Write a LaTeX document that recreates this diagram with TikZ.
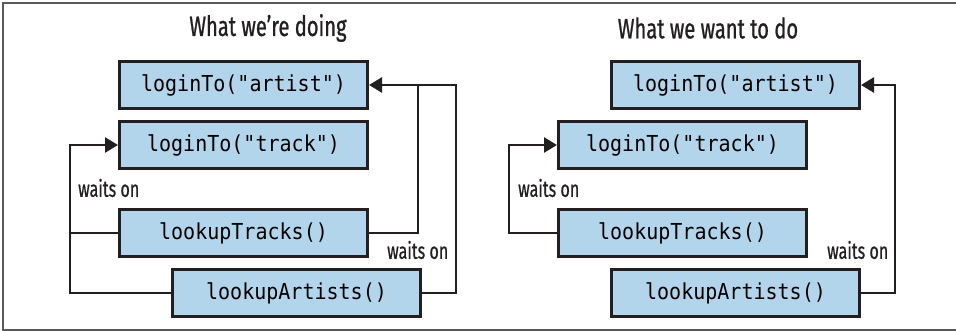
\documentclass[tikz,border=0pt]{standalone}
\usepackage{fontspec}
\setmainfont{Fira Sans}[FakeStretch=0.72,FakeBold=0.8]
\newfontfamily\codefont{DejaVu Sans Mono}[FakeStretch=0.91]
\newfontfamily\lblfont{Fira Sans}[FakeStretch=0.7,FakeBold=0.6]
\usetikzlibrary{arrows.meta}
\definecolor{boxfill}{RGB}{179,213,236}
\definecolor{boxline}{RGB}{35,31,32}
\definecolor{framegray}{RGB}{90,90,90}
\tikzset{
  fn/.style={draw=boxline, line width=3pt, fill=boxfill, minimum width=248pt, minimum height=47pt,
             inner sep=0pt, font=\codefont\fontsize{22}{22}\selectfont, anchor=north west},
  conn/.style={draw=boxline, line width=2.6pt},
  arr/.style={conn, -{Triangle[length=13pt,width=15pt]}},
  lbl/.style={font=\lblfont\fontsize{23}{23}\selectfont, inner sep=0pt, anchor=west, text=boxline},
  ttl/.style={font=\fontsize{28}{28}\selectfont, inner sep=0pt, text=boxline}
}
\begin{document}
\begin{tikzpicture}[x=1pt,y=-1pt]
\useasboundingbox (0,0) rectangle (956,331);
\draw[framegray, line width=1.5pt] (956,3) -- (3,3) -- (3,330) -- (956,330);

% left panel
\node[ttl] (t1) at (268,28) {What we’re doing};
\node[fn] (a1) at (118,60) {loginTo("artist")};
\node[fn] (b1) at (118,120) {loginTo("track")};
\node[fn] (c1) at (118,208) {lookupTracks()};
\node[fn] (d1) at (171,268) {lookupArtists()};
\coordinate (l1) at (70,0);
\coordinate (r1a) at (418,0);
\coordinate (r1b) at (456,0);
\draw[conn] (c1.west) -- (c1.west -| l1);
\draw[arr] (d1.west) -| (l1 |- b1.west) -- (b1.west);
\draw[conn] (c1.east) -| (r1a |- a1.east);
\draw[arr] (d1.east) -| (r1b |- a1.east) -- (a1.east);
\node[lbl] (w1) at (78,188) {waits on};
\node[lbl] (w2) at (387,250) {waits on};

% right panel
\node[ttl] (t2) at (708,28) {What we want to do};
\node[fn] (a2) at (610,60) {loginTo("artist")};
\node[fn] (b2) at (557,120) {loginTo("track")};
\node[fn] (c2) at (557,208) {lookupTracks()};
\node[fn] (d2) at (610,268) {lookupArtists()};
\coordinate (l2) at (509,0);
\coordinate (r2) at (895,0);
\draw[arr] (c2.west) -| (l2 |- b2.west) -- (b2.west);
\draw[arr] (d2.east) -| (r2 |- a2.east) -- (a2.east);
\node[lbl] (w3) at (518,188) {waits on};
\node[lbl] (w4) at (827,250) {waits on};
\end{tikzpicture}
\end{document}
